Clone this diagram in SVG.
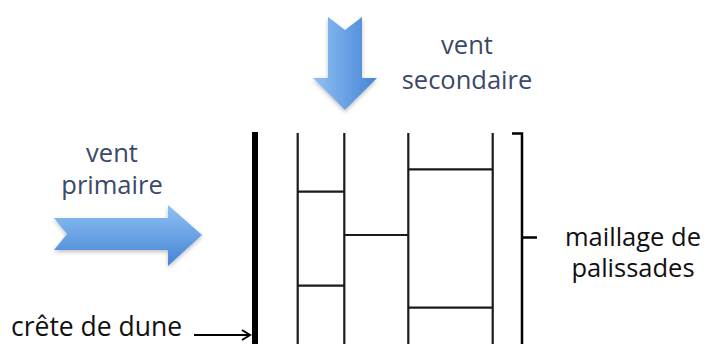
<svg xmlns="http://www.w3.org/2000/svg" width="705" height="344" viewBox="0 0 705 344">
  <defs>
    <linearGradient id="gRight" x1="0" y1="0" x2="0" y2="1">
      <stop offset="0" stop-color="#8fc1f4"/>
      <stop offset="1" stop-color="#4584d4"/>
    </linearGradient>
    <linearGradient id="gDown" x1="0" y1="0" x2="1" y2="0">
      <stop offset="0" stop-color="#8fc1f4"/>
      <stop offset="1" stop-color="#4584d4"/>
    </linearGradient>
    <filter id="shadow" x="-20%" y="-20%" width="140%" height="160%">
      <feDropShadow dx="0" dy="2" stdDeviation="2" flood-color="#000" flood-opacity="0.25"/>
    </filter>
    <marker id="openArrow" markerWidth="12" markerHeight="12" refX="10" refY="6" orient="auto" markerUnits="userSpaceOnUse">
      <path d="M2,1 L10,6 L2,11" fill="none" stroke="#000" stroke-width="2"/>
    </marker>
    <style>
      .lbl { font-family: "Open Sans", "Liberation Sans", sans-serif; font-size: 25.5px; }
      .wind { fill: #3b4868; }
      .dark { fill: #111; }
      .fence { stroke: #1a1a1a; stroke-width: 2.2; fill: none; }
      .crest { stroke: #000; stroke-width: 6; }
      .bracket { stroke: #000; stroke-width: 2.5; fill: none; }
    </style>
  </defs>
  <rect width="705" height="344" fill="#fff"/>

  <g id="vent-primaire">
    <polygon points="54,218 168,218 168,205 202,235 168,266 168,250 54,250 67,234" fill="url(#gRight)" filter="url(#shadow)"/>
    <text class="lbl wind" x="112" y="162" text-anchor="middle">vent</text>
    <text class="lbl wind" x="112" y="193.5" text-anchor="middle">primaire</text>
  </g>

  <g id="vent-secondaire">
    <polygon points="328,17 345,30 362,17 362,78 377,78 345,110 313,78 328,78" fill="url(#gDown)" filter="url(#shadow)"/>
    <text class="lbl wind" x="467" y="54" text-anchor="middle">vent</text>
    <text class="lbl wind" x="467" y="89" text-anchor="middle">secondaire</text>
  </g>

  <g id="crete-de-dune">
    <line class="crest" x1="255" y1="132" x2="255" y2="344"/>
    <text class="lbl dark" x="11" y="336" style="font-size:26.5px">crête de dune</text>
  </g>

  <g id="palissades">
    <line class="fence" x1="297.7" y1="133" x2="297.7" y2="344"/>
    <line class="fence" x1="344.3" y1="133" x2="344.3" y2="344"/>
    <line class="fence" x1="408.3" y1="133" x2="408.3" y2="344"/>
    <line class="fence" x1="492.7" y1="133" x2="492.7" y2="344"/>
    <line class="fence" x1="297.7" y1="191.7" x2="344.3" y2="191.7"/>
    <line class="fence" x1="297.7" y1="285.7" x2="344.3" y2="285.7"/>
    <line class="fence" x1="344.3" y1="235" x2="408.3" y2="235"/>
    <line class="fence" x1="408.3" y1="169.3" x2="492.7" y2="169.3"/>
    <line class="fence" x1="408.3" y1="307.7" x2="492.7" y2="307.7"/>
  </g>

  <g id="maillage">
    <path class="bracket" d="M512,133.5 L522,133.5 L522,344 M522,237.5 L537,237.5"/>
    <text class="lbl dark" x="633" y="246" text-anchor="middle">maillage de</text>
    <text class="lbl dark" x="633" y="277" text-anchor="middle">palissades</text>
  </g>

  <g id="connectors">
    <line x1="194" y1="335" x2="250" y2="335" stroke="#000" stroke-width="2" marker-end="url(#openArrow)"/>
  </g>
</svg>
